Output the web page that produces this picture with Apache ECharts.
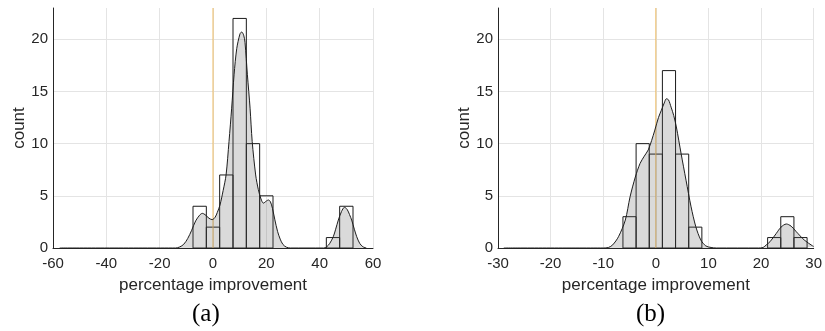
<!DOCTYPE html>
<html>
<head>
<meta charset="utf-8">
<script src="https://cdn.jsdelivr.net/npm/echarts@6/dist/echarts.min.js"></script>
<style>html,body{margin:0;padding:0;background:#fff;}#c{width:825px;height:331px;}</style>
</head>
<body>
<div id="c"></div>
<script>
// ---- data ----
const xTicksA = [-60, -40, -20, 0, 20, 40, 60];
const xTicksB = [-30, -20, -10, 0, 10, 20, 30];
const yTicks = [0, 5, 10, 15, 20];

const binWidthA = 5;
const histACenters = [-5, 0, 5, 10, 15, 20, 45, 50];
const histACounts  = [4, 2, 7, 22, 10, 5, 1, 4];

const binWidthB = 2.5;
const histBCenters = [-5, -2.5, 0, 2.5, 5, 7.5, 22.5, 25, 27.5];
const histBCounts  = [3, 10, 9, 17, 9, 2, 1, 3, 1];

const kdeAX = [-57.5, -14, -12.5, -11, -9.5, -8, -6.5, -5, -4, -3, -1.5, -0.3, 0.8, 1.6, 2.6, 3.8, 4.9, 6.0, 7.0, 7.9, 8.9, 10.1, 10.75, 11.5, 12.0, 12.9, 13.9, 14.7, 16.0, 17.0, 18.0, 18.9, 20.0, 20.75, 21.5, 22.3, 23.2, 24.2, 25.2, 26.2, 27.5, 29, 41.5, 42.6, 43.8, 45.1, 46, 47.0, 48.2, 49.3, 50.3, 51.2, 52.0, 53.0, 53.9, 55, 56.2, 57.5];
const kdeAY = [0, 0, 0.1, 0.35, 0.9, 1.7, 2.6, 3.15, 3.32, 3.2, 2.85, 2.72, 2.95, 3.4, 4.1, 5.5, 7.0, 10.2, 13.4, 16.6, 19.1, 20.5, 20.7, 20.4, 19.7, 16.6, 13.4, 10.2, 7.0, 5.6, 4.7, 4.3, 4.5, 4.6, 4.45, 3.8, 2.7, 1.6, 0.85, 0.35, 0.08, 0, 0, 0.1, 0.45, 1.08, 1.8, 2.68, 3.5, 3.9, 3.7, 3.2, 2.68, 1.8, 1.08, 0.45, 0.12, 0];

const kdeBX = [-28.9, -10, -9, -8.2, -7.1, -5.8, -4.9, -3.9, -3.0, -2.2, -1.44, -0.8, -0.19, 0.5, 1.05, 1.6, 2.0, 2.4, 2.9, 3.4, 3.9, 4.8, 5.74, 6.7, 7.6, 8.55, 9.5, 10.5, 11.5, 19.5, 20.4, 21.0, 21.7, 22.9, 23.8, 24.8, 25.7, 26.7, 28.2, 29.8, 30];
const kdeBY = [0, 0, 0.05, 0.3, 1.08, 2.68, 4.9, 6.8, 8.1, 8.8, 9.4, 10.3, 11.3, 12.5, 13.2, 13.9, 14.3, 14.2, 13.5, 12.7, 11.6, 9.06, 6.5, 3.95, 2.04, 0.77, 0.2, 0.05, 0, 0, 0.05, 0.3, 0.6, 1.4, 2.0, 2.3, 2.1, 1.56, 0.77, 0.2, 0.15];

const zeroLineX = 0;
const yMax = 23;

// ---- build chart ----
const FONT = 'Liberation Sans, Arial, Helvetica, sans-serif';
const TXT = '#262626';
const GRIDC = '#e4e4e4';

function zip(a, b) { return a.map((v, i) => [v, b[i]]); }

function xAxisCfg(gridIndex, ticks) {
  return {
    type: 'value', gridIndex: gridIndex,
    min: ticks[0], max: ticks[ticks.length - 1], interval: ticks[1] - ticks[0],
    name: 'percentage improvement', nameLocation: 'middle', nameGap: 29,
    nameTextStyle: { fontFamily: FONT, fontSize: 17, color: TXT },
    axisLine: { show: true, onZero: false, lineStyle: { color: TXT, width: 1 } },
    axisTick: { show: false },
    axisLabel: { fontFamily: FONT, fontSize: 15, color: TXT, margin: 8, showMinLabel: true, showMaxLabel: true },
    splitLine: { show: true, lineStyle: { color: GRIDC, width: 1 } }
  };
}
function yAxisCfg(gridIndex) {
  return {
    type: 'value', gridIndex: gridIndex,
    min: yTicks[0], max: yMax, interval: yTicks[1] - yTicks[0],
    name: 'count', nameLocation: 'middle', nameGap: 25, nameRotate: 90,
    nameTextStyle: { fontFamily: FONT, fontSize: 17, color: TXT },
    axisLine: { show: true, onZero: false, lineStyle: { color: TXT, width: 1 } },
    axisTick: { show: false },
    axisLabel: { fontFamily: FONT, fontSize: 15, color: TXT, margin: 5, showMaxLabel: false },
    splitLine: { show: true, showMaxLine: false, showMinLine: false, lineStyle: { color: GRIDC, width: 1 } }
  };
}
function histSeries(idx, centers, counts, w) {
  return {
    type: 'custom', xAxisIndex: idx, yAxisIndex: idx, z: 2,
    data: zip(centers, counts),
    renderItem: function (params, api) {
      const c = api.value(0), v = api.value(1);
      const p0 = api.coord([c - w / 2, v]);
      const p1 = api.coord([c + w / 2, 0]);
      return {
        type: 'rect',
        shape: { x: p0[0], y: p0[1], width: p1[0] - p0[0], height: p1[1] - p0[1] },
        style: { fill: 'none', stroke: '#1a1a1a', lineWidth: 1 }
      };
    }
  };
}
function zeroSeries(idx) {
  return {
    type: 'line', xAxisIndex: idx, yAxisIndex: idx, z: 2,
    data: [[zeroLineX, 0], [zeroLineX, yMax]], showSymbol: false, symbol: 'none',
    lineStyle: { color: '#EDBB62', width: 1 }, silent: true, animation: false
  };
}
function kdeSeries(idx, xs, ys) {
  return {
    type: 'line', xAxisIndex: idx, yAxisIndex: idx, z: 3,
    data: zip(xs, ys), smooth: 0.3, showSymbol: false, symbol: 'none',
    lineStyle: { color: '#1e1e1e', width: 1 },
    areaStyle: { color: 'rgba(95,95,95,0.33)', origin: 'start' },
    silent: true, animation: false, clip: true
  };
}

const chart = echarts.init(document.getElementById('c'), null, { renderer: 'canvas' });
chart.setOption({
  animation: false,
  backgroundColor: '#ffffff',
  grid: [
    { left: 53, top: 8, width: 320, height: 240 },
    { left: 498, top: 8, width: 320, height: 240 }
  ],
  xAxis: [xAxisCfg(0, xTicksA), xAxisCfg(1, xTicksB)],
  yAxis: [yAxisCfg(0), yAxisCfg(1)],
  series: [
    histSeries(0, histACenters, histACounts, binWidthA),
    zeroSeries(0),
    kdeSeries(0, kdeAX, kdeAY),
    histSeries(1, histBCenters, histBCounts, binWidthB),
    zeroSeries(1),
    kdeSeries(1, kdeBX, kdeBY)
  ],
  graphic: [
    { type: 'text', left: 192, top: 302, style: { text: '(a)', font: '25px "Liberation Serif", "Times New Roman", serif', fill: '#000' } },
    { type: 'text', left: 636, top: 302, style: { text: '(b)', font: '25px "Liberation Serif", "Times New Roman", serif', fill: '#000' } }
  ]
});
</script>
</body>
</html>
